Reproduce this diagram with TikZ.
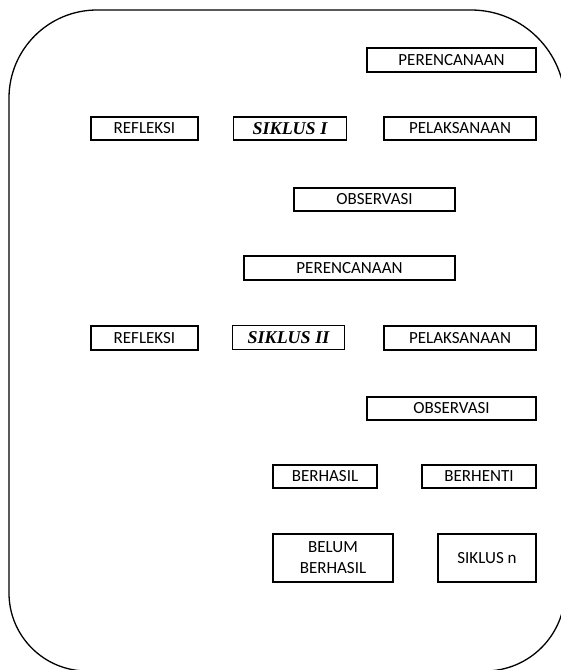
\documentclass[tikz,border=0pt]{standalone}
\usepackage{fontspec}
\setmainfont{Carlito}
\newfontfamily\judulfont{Liberation Serif}
\begin{document}
\begin{tikzpicture}[x=1pt,y=-1pt,
  kotak/.style={draw,line width=1.8pt,inner sep=0pt,align=center,font=\fontsize{17}{21}\selectfont},
  judul/.style={kotak,font=\judulfont\fontsize{18}{20}\selectfont\bfseries\itshape}]
\useasboundingbox (0,0) rectangle (561,670);
% bingkai luar
\draw[line width=1.3pt] (9,98) arc[start angle=180,end angle=270,radius=88] -- (471,10)
  arc[start angle=270,end angle=360,radius=94] -- (565,591)
  arc[start angle=0,end angle=90,radius=80] -- (87,671)
  arc[start angle=90,end angle=180,radius=78] -- cycle;

% siklus I
\node[kotak,minimum width=169,minimum height=24] (per1) at (451.5,60) {PERENCANAAN};
\node[kotak,minimum width=107,minimum height=23] (ref1) at (144.5,128.5) {REFLEKSI};
\node[judul,minimum width=113,minimum height=23] (sik1) at (290,128.5) {SIKLUS I};
\node[kotak,minimum width=152,minimum height=23] (pel1) at (460,128.5) {PELAKSANAAN};
\node[kotak,minimum width=161,minimum height=23] (obs1) at (374.5,199.5) {OBSERVASI};

% siklus II
\node[kotak,minimum width=211,minimum height=24] (per2) at (349.5,268) {PERENCANAAN};
\node[kotak,minimum width=107,minimum height=24] (ref2) at (144.5,338) {REFLEKSI};
\node[judul,minimum width=112,minimum height=24] (sik2) at (288.5,337.5) {SIKLUS II};
\node[kotak,minimum width=152,minimum height=24] (pel2) at (460,338) {PELAKSANAAN};
\node[kotak,minimum width=169,minimum height=23] (obs2) at (451.5,408.5) {OBSERVASI};

% hasil
\node[kotak,minimum width=104,minimum height=23] (hasil) at (325,476.5) {BERHASIL};
\node[kotak,minimum width=114,minimum height=23] (henti) at (479,476.5) {BERHENTI};
\node[kotak,minimum width=120,minimum height=48] (belum) at (333,558) {BELUM\\BERHASIL};
\node[kotak,minimum width=98,minimum height=48] (sikn) at (487,558) {SIKLUS n};

\end{tikzpicture}
\end{document}
